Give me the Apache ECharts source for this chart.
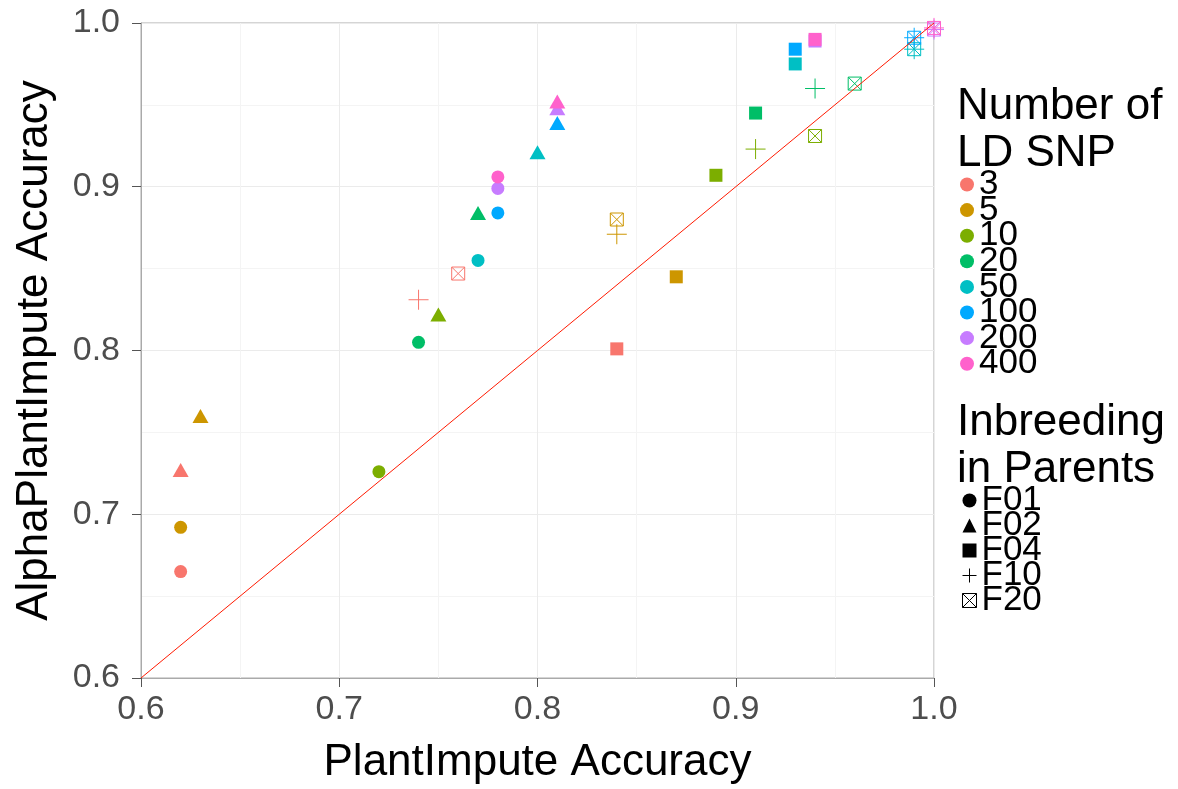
<!DOCTYPE html>
<html>
<head>
<meta charset="utf-8">
<script src="https://cdn.jsdelivr.net/npm/echarts@6/dist/echarts.min.js"></script>
<style>html,body{margin:0;padding:0;background:#fff}#c{width:1178px;height:789px}</style>
</head>
<body>
<div id="c"></div>
<script>
// Categories
const snpLevels = ['3', '5', '10', '20', '50', '100', '200', '400'];
const inbreedLevels = ['F01', 'F02', 'F04', 'F10', 'F20'];
// PlantImpute accuracy (x) and AlphaPlantImpute accuracy (y), per inbreeding level, ordered by snpLevels
const xF01 = [0.62, 0.62, 0.72, 0.74, 0.77, 0.78, 0.78, 0.78];
const yF01 = [0.665, 0.692, 0.726, 0.805, 0.855, 0.884, 0.899, 0.906];
const xF02 = [0.62, 0.63, 0.75, 0.77, 0.80, 0.81, 0.81, 0.81];
const yF02 = [0.727, 0.760, 0.822, 0.884, 0.921, 0.939, 0.948, 0.952];
const xF04 = [0.84, 0.87, 0.89, 0.91, 0.93, 0.93, 0.94, 0.94];
const yF04 = [0.801, 0.845, 0.907, 0.945, 0.975, 0.984, 0.989, 0.990];
const xF10 = [0.74, 0.84, 0.91, 0.94, 0.99, 0.99, 1.00, 1.00];
const yF10 = [0.831, 0.871, 0.923, 0.960, 0.984, 0.991, 0.996, 0.997];
const xF20 = [0.76, 0.84, 0.94, 0.96, 0.99, 0.99, 1.00, 1.00];
const yF20 = [0.847, 0.880, 0.931, 0.963, 0.984, 0.991, 0.996, 0.997];
const axisTicks = [0.6, 0.7, 0.8, 0.9, 1.0];

const xs = [xF01, xF02, xF04, xF10, xF20];
const ys = [yF01, yF02, yF04, yF10, yF20];
const colors = ['#F8766D', '#CD9600', '#7CAE00', '#00BE67', '#00BFC4', '#00A9FF', '#C77CFF', '#FF61CC'];
const PLUS = 'path://M0,5L10,5M5,0L5,10';
const BOXX = 'path://M0,0L10,0L10,10L0,10ZM0,0L10,10M10,0L0,10';
const shapes = [
  {symbol: 'circle', size: 13, filled: true},
  {symbol: 'triangle', size: [16, 14], filled: true},
  {symbol: 'rect', size: 13, filled: true},
  {symbol: PLUS, size: 20, filled: false},
  {symbol: BOXX, size: 13, filled: false}
];
const FONT = '"Liberation Sans", Arial, Helvetica, sans-serif';

function styleFor(shape, col) {
  return shape.filled ? {color: col, borderWidth: 0, opacity: 1}
                      : {color: 'none', borderColor: col, borderWidth: 1, opacity: 1};
}

const series = [];
snpLevels.forEach((lvl, i) => {
  const data = [];
  inbreedLevels.forEach((ib, j) => {
    const sh = shapes[j];
    data.push({
      value: [xs[j][i], ys[j][i]],
      symbol: sh.symbol,
      symbolSize: sh.size,
      itemStyle: styleFor(sh, colors[i])
    });
  });
  series.push({
    type: 'scatter', name: lvl, data: data,
    itemStyle: {color: colors[i], opacity: 1},
    emphasis: {disabled: true}, z: 3
  });
});
inbreedLevels.forEach((ib, j) => {
  series.push({
    type: 'scatter', name: ib, data: [],
    symbol: shapes[j].symbol,
    itemStyle: styleFor(shapes[j], '#000')
  });
});
series.push({
  type: 'line', name: 'identity', data: [[0.6, 0.6], [1.0, 1.0]],
  symbol: 'none', lineStyle: {color: '#FF1A00', width: 1}, z: 5, silent: true,
  emphasis: {disabled: true}
});

function axisCommon(name, gap) {
  return {
    type: 'value', min: 0.6, max: 1.0, interval: 0.1,
    name: name, nameLocation: 'middle', nameGap: gap,
    nameTextStyle: {fontSize: 44, color: '#000', fontFamily: FONT},
    axisLine: {show: true, onZero: false, lineStyle: {color: '#aaaaaa', width: 1}},
    axisTick: {show: true, length: 9, lineStyle: {color: '#555555', width: 1}},
    axisLabel: {fontSize: 34, color: '#4d4d4d', fontFamily: FONT,
      formatter: v => axisTicks.find(t => Math.abs(t - v) < 1e-9) !== undefined ? v.toFixed(1) : ''},
    splitLine: {show: true, lineStyle: {color: '#ebebeb', width: 1}},
    minorTick: {show: false, splitNumber: 2},
    minorSplitLine: {show: true, lineStyle: {color: '#f4f4f4', width: 1}}
  };
}

const xAxis = axisCommon('PlantImpute Accuracy', 63);
xAxis.axisLabel.margin = 15;
const yAxis = axisCommon('AlphaPlantImpute Accuracy', 84);
yAxis.axisLabel.margin = 21;

const legendText = {fontSize: 35, color: '#000', fontFamily: FONT, padding: 0};

const option = {
  animation: false,
  backgroundColor: '#ffffff',
  grid: {left: 141, top: 23, width: 793, height: 655, show: true, borderColor: '#aaaaaa', borderWidth: 1,
         containLabel: false, outerBoundsMode: 'none'},
  xAxis: xAxis,
  yAxis: yAxis,
  title: [
    {text: 'Number of\nLD SNP', left: 957, top: 83, padding: 0,
     textStyle: {fontSize: 44, lineHeight: 47, fontWeight: 'normal', color: '#000', fontFamily: FONT}},
    {text: 'Inbreeding\nin Parents', left: 957, top: 399, padding: 0,
     textStyle: {fontSize: 44, lineHeight: 47, fontWeight: 'normal', color: '#000', fontFamily: FONT}}
  ],
  legend: [
    {orient: 'vertical', left: 960, top: 167, itemWidth: 14, itemHeight: 14, itemGap: -9.4,
     selectedMode: false, textStyle: legendText, padding: 0,
     data: snpLevels.map(n => ({name: n, icon: 'circle'}))},
    {orient: 'vertical', left: 960, top: 483, itemWidth: 14, itemHeight: 14, itemGap: -10,
     selectedMode: false, textStyle: legendText, padding: 0,
     data: inbreedLevels.map((n, j) => ({name: n, icon: shapes[j].symbol,
       itemStyle: styleFor(shapes[j], '#000')}))}
  ],
  series: series
};

const chart = echarts.init(document.getElementById('c'), null, {renderer: 'canvas'});
chart.setOption(option);
</script>
</body>
</html>
